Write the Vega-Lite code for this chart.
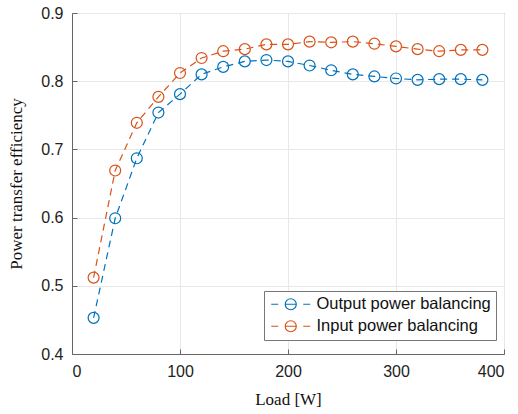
{
  "$schema": "https://vega.github.io/schema/vega-lite/v6.json",
  "width": 432,
  "height": 341,
  "autosize": "none",
  "padding": {"left": 72, "top": 13, "right": 14, "bottom": 60},
  "background": "white",
  "config": {
    "view": {"stroke": "#666", "strokeWidth": 1},
    "axis": {
      "domainColor": "#666",
      "tickColor": "#666",
      "gridColor": "#e8e8e8",
      "labelFont": "Liberation Sans",
      "labelFontSize": 16,
      "labelColor": "#222",
      "titleFont": "Liberation Serif",
      "titleFontSize": 17,
      "titleFontWeight": "normal",
      "titleColor": "#111"
    }
  },
  "data": {
    "values": [
      {"load": 20, "eff": 0.453, "series": "Output power balancing"},
      {"load": 40, "eff": 0.599, "series": "Output power balancing"},
      {"load": 60, "eff": 0.687, "series": "Output power balancing"},
      {"load": 80, "eff": 0.754, "series": "Output power balancing"},
      {"load": 100, "eff": 0.781, "series": "Output power balancing"},
      {"load": 120, "eff": 0.810, "series": "Output power balancing"},
      {"load": 140, "eff": 0.821, "series": "Output power balancing"},
      {"load": 160, "eff": 0.829, "series": "Output power balancing"},
      {"load": 180, "eff": 0.831, "series": "Output power balancing"},
      {"load": 200, "eff": 0.829, "series": "Output power balancing"},
      {"load": 220, "eff": 0.823, "series": "Output power balancing"},
      {"load": 240, "eff": 0.816, "series": "Output power balancing"},
      {"load": 260, "eff": 0.810, "series": "Output power balancing"},
      {"load": 280, "eff": 0.807, "series": "Output power balancing"},
      {"load": 300, "eff": 0.804, "series": "Output power balancing"},
      {"load": 320, "eff": 0.802, "series": "Output power balancing"},
      {"load": 340, "eff": 0.803, "series": "Output power balancing"},
      {"load": 360, "eff": 0.803, "series": "Output power balancing"},
      {"load": 380, "eff": 0.802, "series": "Output power balancing"},
      {"load": 20, "eff": 0.512, "series": "Input power balancing"},
      {"load": 40, "eff": 0.669, "series": "Input power balancing"},
      {"load": 60, "eff": 0.739, "series": "Input power balancing"},
      {"load": 80, "eff": 0.777, "series": "Input power balancing"},
      {"load": 100, "eff": 0.812, "series": "Input power balancing"},
      {"load": 120, "eff": 0.834, "series": "Input power balancing"},
      {"load": 140, "eff": 0.844, "series": "Input power balancing"},
      {"load": 160, "eff": 0.847, "series": "Input power balancing"},
      {"load": 180, "eff": 0.854, "series": "Input power balancing"},
      {"load": 200, "eff": 0.854, "series": "Input power balancing"},
      {"load": 220, "eff": 0.858, "series": "Input power balancing"},
      {"load": 240, "eff": 0.857, "series": "Input power balancing"},
      {"load": 260, "eff": 0.858, "series": "Input power balancing"},
      {"load": 280, "eff": 0.855, "series": "Input power balancing"},
      {"load": 300, "eff": 0.851, "series": "Input power balancing"},
      {"load": 320, "eff": 0.847, "series": "Input power balancing"},
      {"load": 340, "eff": 0.844, "series": "Input power balancing"},
      {"load": 360, "eff": 0.846, "series": "Input power balancing"},
      {"load": 380, "eff": 0.846, "series": "Input power balancing"}
    ]
  },
  "encoding": {
    "x": {
      "field": "load", "type": "quantitative",
      "scale": {"domain": [0, 400], "nice": false},
      "axis": {"values": [0, 100, 200, 300, 400], "title": "Load [W]", "tickSize": -5, "labelPadding": 14, "titlePadding": 12}
    },
    "y": {
      "field": "eff", "type": "quantitative",
      "scale": {"domain": [0.4, 0.9], "nice": false, "zero": false},
      "axis": {"values": [0.4, 0.5, 0.6, 0.7, 0.8, 0.9], "format": ".1f", "title": "Power transfer efficiency", "tickSize": -5, "labelPadding": 14, "titlePadding": 15}
    },
    "color": {
      "field": "series", "type": "nominal",
      "scale": {"domain": ["Output power balancing", "Input power balancing"], "range": ["#0072BD", "#D95319"]},
      "legend": {
        "title": null,
        "orient": "none",
        "legendX": 192,
        "legendY": 278,
        "fillColor": "white",
        "strokeColor": "#777",
        "padding": 5,
        "rowPadding": 5,
        "symbolType": "M-1,0L0.17,0M1.33,0A0.92,0.92,0,1,1,3.17,0A0.92,0.92,0,1,1,1.33,0M1.33,0L3.17,0M4.33,0L5.5,0",
        "symbolSize": 144,
        "symbolStrokeWidth": 1.2,
        "symbolFillColor": "transparent",
        "labelFont": "Liberation Sans",
        "labelFontSize": 16.5,
        "labelLimit": 400,
        "labelColor": "#111",
        "labelOffset": 31
      }
    }
  },
  "layer": [
    {
      "mark": {"type": "line", "strokeDash": [7, 5], "strokeWidth": 1.2}
    },
    {
      "mark": {"type": "point", "shape": "circle", "filled": false, "size": 120, "strokeWidth": 1.2, "opacity": 1}
    }
  ]
}
